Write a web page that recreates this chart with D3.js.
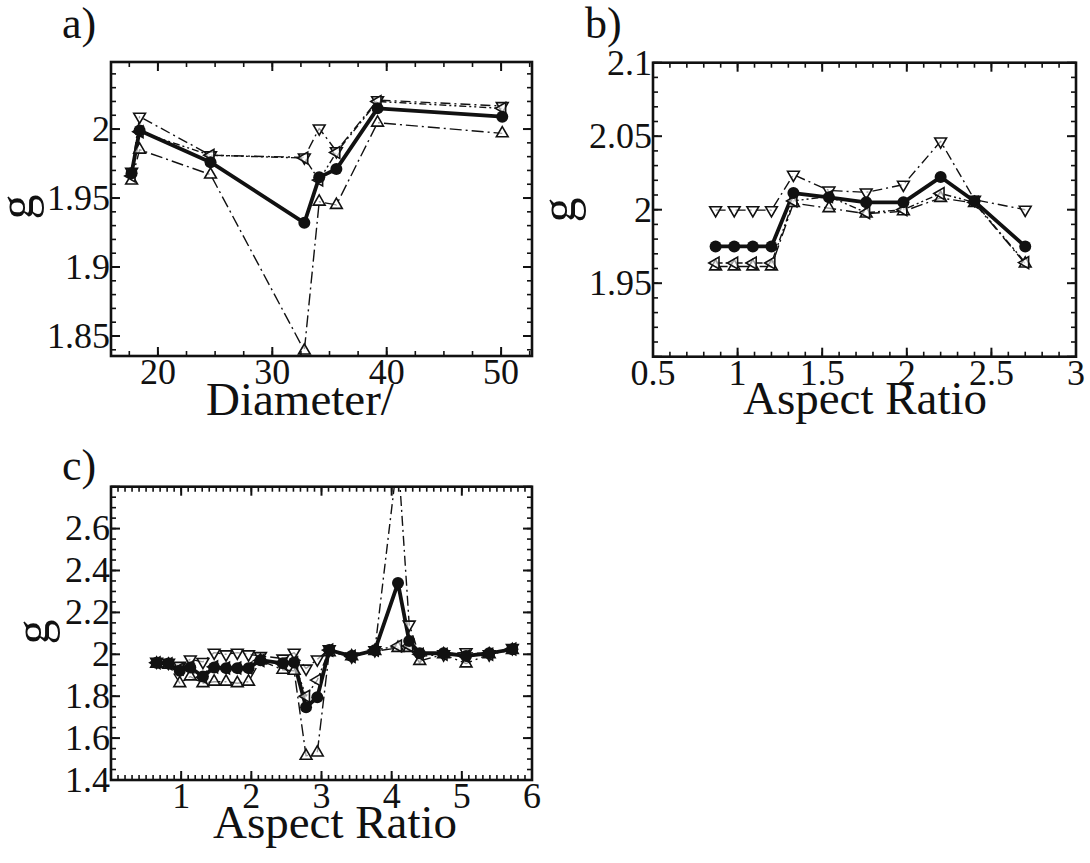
<!DOCTYPE html>
<html>
<head>
<meta charset="utf-8">
<script src="https://cdn.jsdelivr.net/npm/d3@7"></script>
<style>
  body { margin: 0; background: #fff; }
  text { font-family: "Liberation Serif", "DejaVu Serif", serif; fill: #111; }
</style>
</head>
<body>
<svg id="fig" width="1090" height="863"></svg>
<script>
// panel a: g vs diameter
const aX      = [17.7, 18.4, 24.6, 32.8, 34.1, 35.6, 39.2, 50.1];
const aCircle = [1.968, 1.999, 1.976, 1.932, 1.965, 1.971, 2.015, 2.009];
const aDown   = [1.969, 2.009, 1.981, 1.9795, 2.0005, 1.984, 2.021, 2.0167];
const aUp     = [1.9626, 1.985, 1.967, 1.8394, 1.9473, 1.945, 2.0046, 1.9969];
const aLeft   = [1.966, 1.998, 1.981, 1.979, 1.963, 1.983, 2.020, 2.015];

// panel b: g vs aspect ratio
const bX      = [0.87, 0.98, 1.09, 1.2, 1.33, 1.54, 1.76, 1.98, 2.2, 2.4, 2.7];
const bCircle = [1.975, 1.975, 1.975, 1.975, 2.0113, 2.0084, 2.005, 2.005, 2.0222, 2.0057, 1.975];
const bDown   = [1.9997, 1.9997, 1.9997, 1.9997, 2.0238, 2.0131, 2.0118, 2.017, 2.0465, 2.0068, 2.0];
const bUp     = [1.9614, 1.9614, 1.9614, 1.9614, 2.0045, 2.001, 1.9973, 1.9989, 2.008, 2.0045, 1.9633];
const bLeft   = [1.9637, 1.9637, 1.9637, 1.9637, 2.006, 2.009, 1.998, 2.0, 2.011, 2.005, 1.964];

// panel c: g vs aspect ratio (wide range)
const cX      = [0.65, 0.82, 0.98, 1.13, 1.31, 1.47, 1.64, 1.80, 1.96, 2.13, 2.45, 2.61,
                 2.78, 2.94, 3.11, 3.43, 3.76, 4.09, 4.25, 4.40, 4.74, 5.06, 5.39, 5.72];
const cCircle = [1.96, 1.956, 1.921, 1.937, 1.894, 1.937, 1.934, 1.934, 1.934, 1.972, 1.957, 1.961,
                 1.747, 1.795, 2.02, 1.992, 2.019, 2.34, 2.063, 2.005, 2.005, 1.992, 2.005, 2.024];
const cDown   = [1.965, 1.96, 1.945, 1.976, 1.964, 2.008, 2.0, 2.008, 2.0, 1.992, 1.98, 2.008,
                 1.932, 1.976, 2.024, 1.99, 2.02, 2.95, 2.142, 1.99, 2.0, 2.01, 2.0, 2.03];
const cUp     = [1.955, 1.95, 1.862, 1.894, 1.862, 1.869, 1.869, 1.862, 1.869, 1.97, 1.926, 1.921,
                 1.515, 1.531, 2.01, 1.99, 2.015, 2.03, 2.03, 1.968, 2.0, 1.956, 2.0, 2.02];
const cLeft   = [1.96, 1.955, 1.93, 1.94, 1.89, 1.94, 1.935, 1.935, 1.935, 1.97, 1.955, 1.96,
                 1.80, 1.877, 2.02, 1.99, 2.02, 2.04, 2.04, 2.0, 2.0, 1.99, 2.0, 2.025];

const FONT = '"Liberation Serif", "DejaVu Serif", serif';
const svg = d3.select('#fig');

const panels = [
  {
    id: 'a', label: 'a)', labelX: 62, labelY: 38,
    box: [111, 62, 532, 356],
    xDomain: [15.9, 52.7], yDomain: [1.8355, 2.0486],
    xMajor: [20, 30, 40, 50], xMinorStep: 2.5, xMinorStart: 17.5,
    yMajor: [1.85, 1.9, 1.95, 2], yMinorStep: 0.01, yMinorStart: 1.84,
    xLabels: [20, 30, 40, 50], yLabels: [1.85, 1.9, 1.95, 2],
    xTitle: 'Diameter/', xTitleX: 206, xTitleAnchor: 'start', xTitleY: 415,
    gX: 33, gY: 207,
    x: aX, series: [aDown, aUp, aLeft, aCircle]
  },
  {
    id: 'b', label: 'b)', labelX: 585, labelY: 38,
    box: [653, 62.7, 1076, 356.7],
    xDomain: [0.5, 3], yDomain: [1.9, 2.1],
    xMajor: [0.5, 1, 1.5, 2, 2.5, 3], xMinorStep: 0.1, xMinorStart: 0.5,
    yMajor: [1.9, 1.95, 2, 2.05, 2.1], yMinorStep: 0.01, yMinorStart: 1.9,
    xLabels: [0.5, 1, 1.5, 2, 2.5, 3], yLabels: [1.95, 2, 2.05, 2.1],
    xTitle: 'Aspect Ratio', xTitleX: 865, xTitleAnchor: 'middle', xTitleY: 414,
    gX: 575, gY: 210,
    x: bX, series: [bDown, bUp, bLeft, bCircle]
  },
  {
    id: 'c', label: 'c)', labelX: 62, labelY: 480,
    box: [111, 486.7, 532, 780],
    xDomain: [0, 6], yDomain: [1.4, 2.8],
    xMajor: [1, 2, 3, 4, 5, 6], xMinorStep: 0.1, xMinorStart: 0,
    yMajor: [1.4, 1.6, 1.8, 2, 2.2, 2.4, 2.6, 2.8], yMinorStep: 0.05, yMinorStart: 1.4,
    xLabels: [1, 2, 3, 4, 5, 6], yLabels: [1.4, 1.6, 1.8, 2, 2.2, 2.4, 2.6],
    xTitle: 'Aspect Ratio', xTitleX: 335, xTitleAnchor: 'middle', xTitleY: 838,
    gX: 49, gY: 632,
    x: cX, series: [cDown, cUp, cLeft, cCircle]
  }
];

// styles per series: down triangle, up triangle, left triangle, filled circle
const styles = [
  { marker: 'down', dash: '10,4,2,4', width: 1.4 },
  { marker: 'up',   dash: '12,4,2,4', width: 1.4 },
  { marker: 'left', dash: '7,3,2,3,2,3', width: 1.4 },
  { marker: 'circle', dash: null, width: 3.8 }
];

function triPath(s) {
  return `M0,${-s}L${s * 0.866},${s * 0.5}L${-s * 0.866},${s * 0.5}Z`;
}
const rot = { up: 0, down: 180, left: -90 };

function range(start, stop, step) {
  const out = [];
  for (let v = start; v <= stop + step * 1e-6; v += step) out.push(+v.toFixed(6));
  return out;
}

panels.forEach(p => {
  const [x0, y0, x1, y1] = p.box;
  const x = d3.scaleLinear().domain(p.xDomain).range([x0, x1]);
  const y = d3.scaleLinear().domain(p.yDomain).range([y1, y0]);
  const g = svg.append('g').attr('class', 'panel-' + p.id);

  g.append('clipPath').attr('id', 'clip-' + p.id)
    .append('rect').attr('x', x0).attr('y', y0).attr('width', x1 - x0).attr('height', y1 - y0);

  // series lines
  const line = d3.line().x((d, i) => x(p.x[i])).y(d => y(d));
  const plot = g.append('g').attr('clip-path', `url(#clip-${p.id})`);
  p.series.forEach((vals, k) => {
    const st = styles[k];
    plot.append('path')
      .datum(vals)
      .attr('d', line)
      .attr('fill', 'none')
      .attr('stroke', '#111')
      .attr('stroke-width', st.width)
      .attr('stroke-dasharray', st.dash)
      .attr('stroke-linejoin', 'round');
  });
  // markers
  p.series.forEach((vals, k) => {
    const st = styles[k];
    const pts = vals.map((v, i) => [p.x[i], v]).filter(d => d[1] <= p.yDomain[1]);
    if (st.marker === 'circle') {
      plot.selectAll(null).data(pts).join('circle')
        .attr('cx', d => x(d[0])).attr('cy', d => y(d[1]))
        .attr('r', 6).attr('fill', '#111');
    } else {
      plot.selectAll(null).data(pts).join('path')
        .attr('d', triPath(6.8))
        .attr('transform', d => `translate(${x(d[0])},${y(d[1])}) rotate(${rot[st.marker]})`)
        .attr('fill', 'rgba(255,255,255,0.6)')
        .attr('stroke', '#111')
        .attr('stroke-width', 1.6);
    }
  });

  // ticks, inward on all four sides
  const ticks = g.append('g').attr('stroke', '#111');
  const xMinor = range(p.xMinorStart, p.xDomain[1], p.xMinorStep).filter(v => v >= p.xDomain[0]);
  const yMinor = range(p.yMinorStart, p.yDomain[1], p.yMinorStep).filter(v => v >= p.yDomain[0]);
  const drawX = (vals, len, w) => vals.forEach(v => {
    ticks.append('line').attr('x1', x(v)).attr('x2', x(v)).attr('y1', y1).attr('y2', y1 - len).attr('stroke-width', w);
    ticks.append('line').attr('x1', x(v)).attr('x2', x(v)).attr('y1', y0).attr('y2', y0 + len).attr('stroke-width', w);
  });
  const drawY = (vals, len, w) => vals.forEach(v => {
    ticks.append('line').attr('y1', y(v)).attr('y2', y(v)).attr('x1', x0).attr('x2', x0 + len).attr('stroke-width', w);
    ticks.append('line').attr('y1', y(v)).attr('y2', y(v)).attr('x1', x1).attr('x2', x1 - len).attr('stroke-width', w);
  });
  drawX(xMinor, 5, 1.6);
  drawX(p.xMajor, 9, 2);
  drawY(yMinor, 5, 1.6);
  drawY(p.yMajor, 9, 2);

  g.append('rect')
    .attr('x', x0).attr('y', y0).attr('width', x1 - x0).attr('height', y1 - y0)
    .attr('fill', 'none').attr('stroke', '#111').attr('stroke-width', 2.6);

  // tick labels
  g.selectAll(null).data(p.xLabels).join('text')
    .attr('x', d => x(d)).attr('y', y1 + 28)
    .attr('text-anchor', 'middle')
    .style('font-size', '36px').style('font-family', FONT)
    .text(d => d3.format('~g')(d));
  g.selectAll(null).data(p.yLabels).join('text')
    .attr('x', x0 - 1).attr('y', d => y(d)).attr('dy', '0.33em')
    .attr('text-anchor', 'end')
    .style('font-size', '36px').style('font-family', FONT)
    .text(d => d3.format('~g')(d));

  // titles
  g.append('text')
    .attr('x', p.xTitleX).attr('y', p.xTitleY)
    .attr('text-anchor', p.xTitleAnchor)
    .style('font-size', '47px').style('font-family', FONT)
    .text(p.xTitle);
  g.append('text')
    .attr('transform', `translate(${p.gX},${p.gY}) rotate(-90)`)
    .attr('text-anchor', 'middle')
    .style('font-size', '50px').style('font-family', FONT)
    .text('g');
  g.append('text')
    .attr('x', p.labelX).attr('y', p.labelY)
    .style('font-size', '44px').style('font-family', FONT)
    .text(p.label);
});
</script>
</body>
</html>
